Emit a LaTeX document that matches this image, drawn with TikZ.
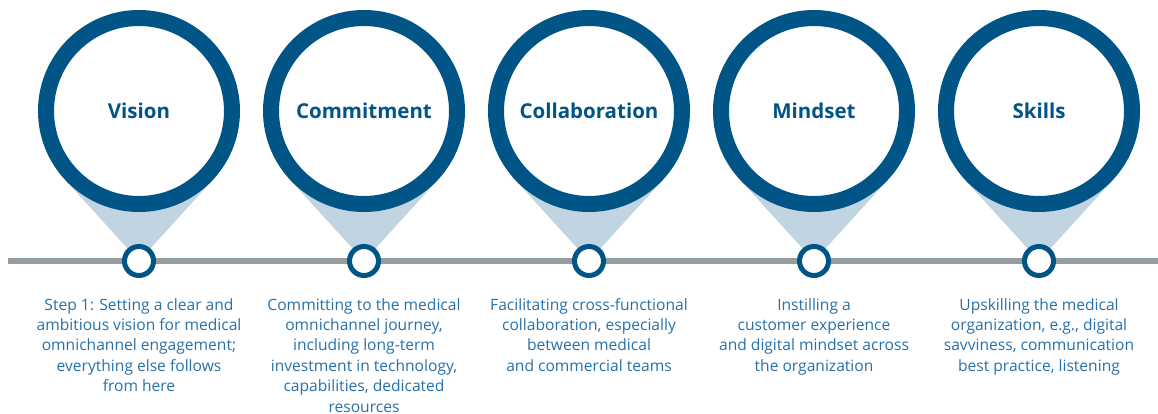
\documentclass[tikz,border=0pt]{standalone}
\usepackage{fontspec}
\setmainfont{Open Sans}
\usetikzlibrary{backgrounds}
\definecolor{azul}{RGB}{0,84,134}
\definecolor{azulclaro}{RGB}{192,212,226}
\definecolor{gris}{RGB}{150,157,160}
\definecolor{texto}{RGB}{38,112,170}
\tikzset{
  ringbig/.style={circle, draw=azul, line width=16pt, fill=white, minimum size=186pt,
    inner sep=0pt, text=azul, font=\bfseries\fontsize{20.5}{24}\selectfont},
  ringsmall/.style={circle, draw=azul, line width=5pt, fill=white, minimum size=29pt, inner sep=0pt},
  cone/.style={fill=azulclaro},
  desc/.style={anchor=north, align=center, text=texto, inner sep=0pt,
    font=\fontsize{15.6}{20.4}\selectfont}
}
\begin{document}
\begin{tikzpicture}[x=1pt, y=-1pt] % 1 unidad = 1 pixel de la figura
    \useasboundingbox (0,0) rectangle (1158,414);
    % Circulos grandes
    \node[ringbig] (vis) at (139,111) {Vision};
    \node[ringbig] (com) at (364,111) {Commitment};
    \node[ringbig] (col) at (589,111) {Collaboration};
    \node[ringbig] (min) at (814,111) {Mindset};
    \node[ringbig] (ski) at (1039,111) {Skills};
    % Linea de tiempo y conos
    \begin{scope}[on background layer]
        \draw[gris, line width=6pt] (8,261) -- (1158,261);
        \foreach \c in {vis,com,col,min,ski}{
            \fill[cone] (\c.center |- 0,261) -- (\c.222) -- (\c.318) -- cycle;
        }
    \end{scope}
    % Puntos sobre la linea
    \node[ringsmall] (p1) at (vis.center |- 0,261) {};
    \node[ringsmall] (p2) at (com.center |- 0,261) {};
    \node[ringsmall] (p3) at (col.center |- 0,261) {};
    \node[ringsmall] (p4) at (min.center |- 0,261) {};
    \node[ringsmall] (p5) at (ski.center |- 0,261) {};
    % Textos
    \node[desc] (t1) at (p1.center |- 0,298) {Step 1: Setting a clear and\\ambitious vision for medical\\omnichannel engagement;\\everything else follows\\from here};
    \node[desc] (t2) at (p2.center |- 0,298) {Committing to the medical\\omnichannel journey,\\including long-term\\investment in technology,\\capabilities, dedicated\\resources};
    \node[desc] (t3) at (p3.center |- 0,298) {Facilitating cross-functional\\collaboration, especially\\between medical\\and commercial teams};
    \node[desc] (t4) at (p4.center |- 0,298) {Instilling a\\customer experience\\and digital mindset across\\the organization};
    \node[desc] (t5) at (p5.center |- 0,298) {Upskilling the medical\\organization, e.g., digital\\savviness, communication\\best practice, listening};
\end{tikzpicture}
\end{document}
